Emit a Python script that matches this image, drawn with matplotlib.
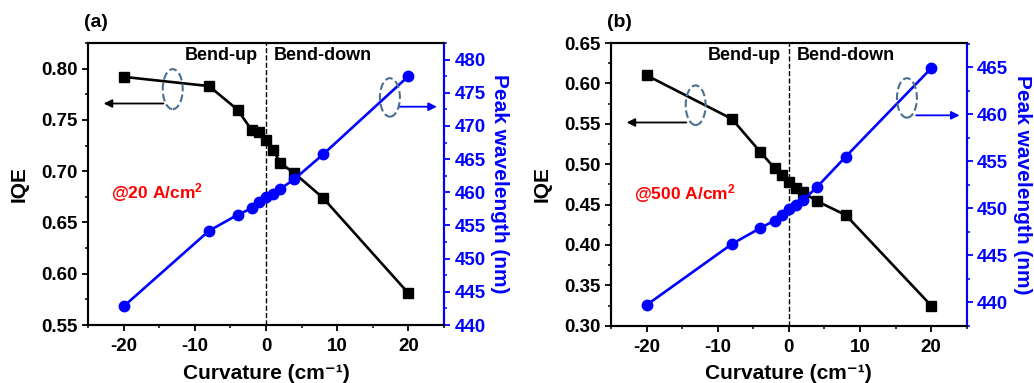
import matplotlib
matplotlib.use('Agg')
import matplotlib.pyplot as plt
from matplotlib.patches import Ellipse
from matplotlib.ticker import MultipleLocator, FormatStrFormatter

plt.rcParams['font.family'] = ['Liberation Sans', 'DejaVu Sans']
plt.rcParams['font.weight'] = 'bold'
plt.rcParams['axes.unicode_minus'] = False
plt.rcParams['mathtext.fontset'] = 'custom'
plt.rcParams['mathtext.rm'] = 'Liberation Sans:bold'
plt.rcParams['mathtext.bf'] = 'Liberation Sans:bold'
plt.rcParams['mathtext.default'] = 'bf'

curvature = [-20, -8, -4, -2, -1, 0, 1, 2, 4, 8, 20]

iqe_a = [0.792, 0.783, 0.760, 0.740, 0.738, 0.730, 0.721, 0.708, 0.698, 0.674, 0.581]
wl_a = [442.8, 454.2, 456.6, 457.6, 458.5, 459.3, 459.7, 460.5, 462.0, 465.7, 477.5]

iqe_b = [0.610, 0.556, 0.515, 0.495, 0.486, 0.478, 0.471, 0.465, 0.454, 0.437, 0.325]
wl_b = [439.7, 446.2, 447.9, 448.7, 449.25, 449.9, 450.35, 450.85, 452.3, 455.5, 464.9]

panels = ['(a)', '(b)']
currents = ['@20 A/cm$^{2}$', '@500 A/cm$^{2}$']

BLUE = '#0000ff'
ELL = '#4a7090'
TICK_FS = 13.5

fig = plt.figure(figsize=(10.34, 3.83), dpi=100)
ax_a = fig.add_axes([0.0851, 0.1514, 0.3443, 0.7363])
ax_b = fig.add_axes([0.5909, 0.1496, 0.3440, 0.7381])

setups = [
    # axis, iqe, wl, ylim left, ylim right, label y, left ellipse, right ellipse
    (ax_a, iqe_a, wl_a, (0.55, 0.825), (440, 482.5), 0.679,
     (-13.1, 0.780, 2.8, 0.039, 0.766), (17.4, 474.3, 2.8, 5.8, 472.9)),
    (ax_b, iqe_b, wl_b, (0.30, 0.65), (437.5, 467.6), 0.464,
     (-13.1, 0.573, 2.8, 0.049, 0.5516), (16.6, 461.75, 2.8, 4.2, 459.9)),
]

for k, (ax, iqe, wl, yl, yr, ly, le, re) in enumerate(setups):
    ax2 = ax.twinx()
    ax.plot(curvature, iqe, color='black', marker='s', ms=6.5, lw=1.9, zorder=3)
    ax2.plot(curvature, wl, color=BLUE, marker='o', ms=7.5, lw=1.9, zorder=3)
    ax.axvline(0, color='black', ls='--', lw=1.0, zorder=1)

    ax.set_xlim(-25, 25)
    ax.set_ylim(*yl)
    ax2.set_ylim(*yr)
    ax.xaxis.set_major_locator(MultipleLocator(10))
    ax.xaxis.set_minor_locator(MultipleLocator(5))
    ax.yaxis.set_major_locator(MultipleLocator(0.05))
    ax.yaxis.set_minor_locator(MultipleLocator(0.025))
    ax2.yaxis.set_major_locator(MultipleLocator(5))
    ax2.yaxis.set_minor_locator(MultipleLocator(2.5))
    ax.yaxis.set_major_formatter(FormatStrFormatter('%.2f'))

    for a in (ax, ax2):
        for s in a.spines.values():
            s.set_linewidth(1.5)
    ax2.spines['right'].set_color(BLUE)
    ax.tick_params(axis='both', which='major', direction='out', length=4.5, width=1.3,
                   labelsize=TICK_FS, top=False, right=False, pad=3)
    ax.tick_params(axis='x', which='major', pad=5)
    ax.tick_params(axis='both', which='minor', direction='out', length=2.5, width=1.1,
                   top=False, right=False)
    ax2.tick_params(axis='y', which='major', direction='out', length=4.5, width=1.3,
                    labelsize=TICK_FS, colors=BLUE, pad=3)
    ax2.tick_params(axis='y', which='minor', direction='out', length=2.5, width=1.1,
                    colors=BLUE)

    ax.set_xlabel('Curvature (cm\u207b\u00b9)', fontsize=15, fontweight='bold', labelpad=6)
    ax.set_ylabel('IQE', fontsize=15, fontweight='bold', labelpad=9)
    ax2.set_ylabel('Peak wavelength (nm)', fontsize=15, fontweight='bold', color=BLUE,
                   rotation=270, labelpad=17)

    ax.text(-1.1, 0.957, 'Bend-up', transform=ax.get_xaxis_transform(), ha='right',
            va='center', fontsize=13, fontweight='bold')
    ax.text(1.1, 0.957, 'Bend-down', transform=ax.get_xaxis_transform(), ha='left',
            va='center', fontsize=13, fontweight='bold')
    ax.text(-21.8, ly, currents[k], color='red', fontsize=12.5, fontweight='bold',
            ha='left', va='center')
    ax.text(-0.01, 1.072, panels[k], transform=ax.transAxes, ha='left', va='center',
            fontsize=14, fontweight='bold')

    # dashed ellipses with arrows pointing to the relevant axis
    cx, cy, w, h, ay = le
    ax.add_patch(Ellipse((cx, cy), w, h, fill=False, ec=ELL, ls='--', lw=1.5, zorder=4))
    ax.annotate('', xy=(-22.8, ay), xytext=(cx - 1.3, ay),
                arrowprops=dict(arrowstyle='-|>', color='black', lw=1.3,
                                mutation_scale=12, shrinkA=0, shrinkB=0))
    cx, cy, w, h, ay = re
    ax2.add_patch(Ellipse((cx, cy), w, h, fill=False, ec=ELL, ls='--', lw=1.5, zorder=4))
    ax2.annotate('', xy=(24.0, ay), xytext=(cx + 1.3, ay),
                 arrowprops=dict(arrowstyle='-|>', color=BLUE, lw=1.3,
                                 mutation_scale=12, shrinkA=0, shrinkB=0))

fig.savefig('out.png', dpi=100)
